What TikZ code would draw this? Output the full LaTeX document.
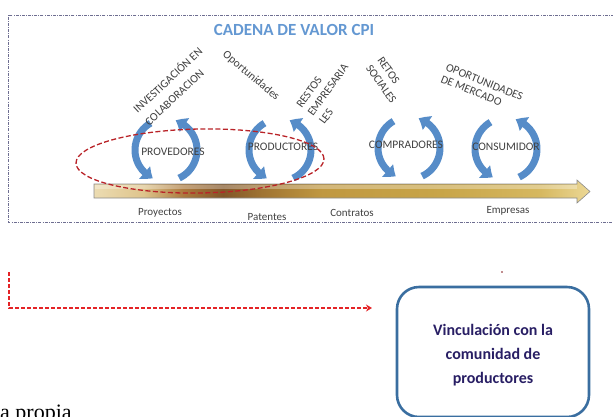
\documentclass[tikz,border=0pt]{standalone}
\usepackage{fontspec}
\setmainfont{Carlito}
\newfontfamily\serifface{Liberation Serif}
\usetikzlibrary{arrows.meta,bending,shapes.geometric}
\definecolor{cycblue}{RGB}{86,140,200}
\definecolor{titleblue}{RGB}{100,152,210}
\definecolor{labgrey}{RGB}{64,64,64}
\definecolor{ellred}{RGB}{185,35,40}
\definecolor{lred}{RGB}{228,35,38}
\definecolor{framec}{RGB}{110,110,145}
\definecolor{boxblue}{RGB}{58,110,160}
\definecolor{boxtext}{RGB}{40,30,100}
\definecolor{baredge}{RGB}{140,140,140}
\definecolor{gA}{RGB}{236,220,178}
\definecolor{gB}{RGB}{222,196,140}
\definecolor{gC}{RGB}{172,122,62}
\definecolor{gD}{RGB}{130,86,40}
\definecolor{gE}{RGB}{160,116,50}
\definecolor{gF}{RGB}{192,152,64}
\definecolor{gG}{RGB}{200,165,72}
\definecolor{gH}{RGB}{214,184,96}
\definecolor{gI}{RGB}{236,216,150}
\pgfdeclarehorizontalshading{goldbar}{100bp}{color(0bp)=(gA); color(25bp)=(gA); color(30bp)=(gB); color(34bp)=(gC); color(38bp)=(gD); color(42bp)=(gE); color(48bp)=(gF); color(60bp)=(gG); color(70bp)=(gH); color(75bp)=(gI); color(100bp)=(gI)}
\tikzset{
  lab/.style={font=\fontsize{11.5}{14}\selectfont, text=labgrey, inner sep=0pt, align=left},
  cyclab/.style={font=\fontsize{11.5}{14}\selectfont, text=labgrey, inner sep=0pt},
  axlab/.style={font=\fontsize{11}{13}\selectfont, text=labgrey, inner sep=0pt},
  cyc/.style={draw=cycblue, line width=7pt, -{Triangle[width=16pt,length=10pt,bend]}},
  framestyle/.style={draw=framec, line width=0.8pt, dash pattern=on 3pt off 1.2pt on 0.8pt off 1.2pt},
  ellstyle/.style={draw=ellred, line width=1.3pt, dash pattern=on 5pt off 2.5pt, ellipse, inner sep=0pt},
  lredarrow/.style={draw=lred, line width=1.3pt, dash pattern=on 4pt off 2pt, -{Stealth[length=6pt,width=7pt]}},
}
\begin{document}
\begin{tikzpicture}[x=1pt,y=1pt]
\useasboundingbox (0,0) rectangle (613,-416);
\clip (0,0) rectangle (613,-416);
% frame
\draw[framestyle] (620,-15) -- (8,-15) -- (8,-222) -- (620,-222);
% title
\node[font=\fontsize{17}{20}\selectfont\bfseries, text=titleblue, inner sep=0pt] (title) at (294,-30) {CADENA DE VALOR CPI};
% gold bar
\shade[shading=goldbar, draw=baredge, line width=0.6pt] (94,-184) -- (577,-184) -- (577,-180) -- (590,-191.5) -- (577,-203) -- (577,-198) -- (94,-198) -- cycle;
\fill[white, opacity=0.3] (94.5,-184.5) rectangle (577,-189);
% cycle centres
\coordinate (c1) at (166,-150);
\coordinate (c2) at (280,-150);
\coordinate (c3) at (409,-148);
\coordinate (c4) at (506,-149);
\foreach \c in {c1,c2,c3,c4}{
  \draw[cyc] ([shift={(120:31)}]\c) arc[start angle=120,end angle=245,radius=31];
  \draw[cyc] ([shift={(-65:31)}]\c) arc[start angle=-65,end angle=72,radius=31];
}
% cycle labels
\node[cyclab] (prov) at (173,-152) {PROVEDORES};
\node[cyclab] (prod) at (283,-147) {PRODUCTORES};
\node[cyclab] (comp) at (406,-145) {COMPRADORES};
\node[cyclab] (cons) at (506,-147) {CONSUMIDOR};
% rotated labels
\node[lab, rotate=43, font=\fontsize{11.5}{17}\selectfont] (inv) at (173,-86) {INVESTIGACIÓN EN\\COLABORACION};
\node[lab, rotate=-40] (opo) at (251,-76) {Oportunidades};
\node[lab, rotate=54] (rest) at (328,-90) {RESTOS\\EMPRESARIA\\LES};
\node[lab, rotate=-55] (reto) at (387,-80) {RETOS\\SOCIALES};
\node[lab, rotate=-22, font=\fontsize{11.5}{13}\selectfont] (opm) at (482,-88) {OPORTUNIDADES\\DE MERCADO};
% ellipse
\node[ellstyle, minimum width=248, minimum height=64, rotate=1] (ell) at (200,-161) {};
% axis labels
\node[axlab] (proy) at (160,-213) {Proyectos};
\node[axlab] (pat) at (267,-217) {Patentes};
\node[axlab] (cont) at (352,-213) {Contratos};
\node[axlab] (emp) at (508,-211) {Empresas};
% red L arrow
\coordinate (ls) at (9,-272);
\coordinate (le) at (372,-308);
\draw[lredarrow] (ls) |- (le);
% dot
\fill[ellred!70!black] (502,-272) circle (0.9);
% box
\node[draw=boxblue, line width=2.6pt, rounded corners=22, minimum width=192, minimum height=130, inner sep=0pt] (box) at (493,-352) {};
\node[font=\fontsize{16}{24}\selectfont\bfseries, text=boxtext, align=center, inner sep=0pt] (boxtxt) at (493,-355) {Vinculación con la\\comunidad de\\productores};
% cut caption
\node[font=\serifface\fontsize{22}{24}\selectfont, anchor=base west, inner sep=0pt] (cap) at (0,-419) {a propia};
\end{tikzpicture}
\end{document}
